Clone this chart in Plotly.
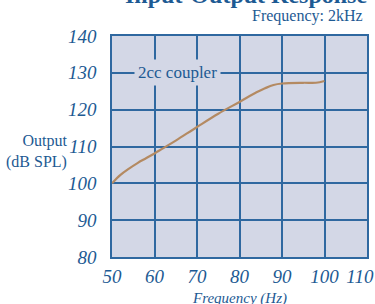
import plotly.graph_objects as go

freq = [50, 52, 54, 56, 58, 60, 62, 65, 70, 75, 80, 84, 86, 88, 90, 95, 98, 100]
output = [100, 102.3, 104, 105.5, 106.8, 108.1, 109.5, 111.6, 115.3, 118.9, 122.1, 124.7, 125.8, 126.7, 127.1, 127.3, 127.3, 127.8]
x_ticks = [50, 60, 70, 80, 90, 100, 110]
y_ticks = [80, 90, 100, 110, 120, 130, 140]

BLUE = "#1d5a93"
GRID = "#2f68a0"
BG = "#d3d7e6"
SERIF = "Liberation Serif"

x_text = ["<i>%d</i>" % v for v in x_ticks]
x_text[-1] = "<i>110</i>" + "&nbsp;" * 3

fig = go.Figure()
fig.add_trace(go.Scatter(x=freq, y=output, mode="lines",
                         line=dict(color="#b48a62", width=2.2, shape="spline"),
                         showlegend=False, hoverinfo="skip"))

fig.update_layout(
    width=375, height=304,
    margin=dict(l=112, r=8, t=36, b=47, autoexpand=False),
    paper_bgcolor="white", plot_bgcolor=BG,
    xaxis=dict(range=[50, 110], tickvals=x_ticks, ticktext=x_text,
               showgrid=True, gridcolor=GRID, gridwidth=1.5, zeroline=False,
               showline=True, linecolor=GRID, linewidth=1.5, mirror=True, automargin=False,
               tickfont=dict(family=SERIF, size=19, color=BLUE),
               ticklabelstandoff=1, ticklabeloverflow="allow"),
    yaxis=dict(range=[80, 140], tickvals=y_ticks, ticktext=["<i>%d</i>" % v for v in y_ticks],
               showgrid=True, gridcolor=GRID, gridwidth=1.5, zeroline=False,
               showline=True, linecolor=GRID, linewidth=1.5, mirror=True, automargin=False,
               tickfont=dict(family=SERIF, size=19, color=BLUE),
               ticklabelstandoff=10),
)

plot_l, plot_r, plot_t, plot_b = 112, 367, 36, 257
pw, ph = plot_r - plot_l, plot_b - plot_t
def px(xp): return (xp - plot_l) / pw
def py(yp): return (plot_b - yp) / ph

fig.add_annotation(text="2cc coupler", x=65.3, y=130, xref="x", yref="y",
                   showarrow=False, bgcolor=BG, borderpad=3,
                   font=dict(family=SERIF, size=17, color=BLUE))
fig.add_annotation(text="<b>Input-Output Response</b>", x=px(246), y=py(10), xref="paper", yref="paper",
                   showarrow=False, yanchor="bottom", xanchor="center",
                   font=dict(family=SERIF, size=24, color=BLUE))
fig.add_annotation(text="Frequency: 2kHz", x=px(365), y=py(16), xref="paper", yref="paper",
                   showarrow=False, xanchor="right", yanchor="middle",
                   font=dict(family=SERIF, size=16, color=BLUE))
fig.add_annotation(text="Output<br>(dB SPL)", x=px(69), y=py(151), xref="paper", yref="paper",
                   showarrow=False, xanchor="right", yanchor="middle", align="right",
                   font=dict(family=SERIF, size=16, color=BLUE))
fig.add_annotation(text="<i>Frequency (Hz)</i>", x=px(239), y=py(298), xref="paper", yref="paper",
                   showarrow=False, yanchor="middle",
                   font=dict(family=SERIF, size=15, color=BLUE))

fig.write_html("out.html", config={"displayModeBar": False},
               post_script="document.body.style.margin='0';")
